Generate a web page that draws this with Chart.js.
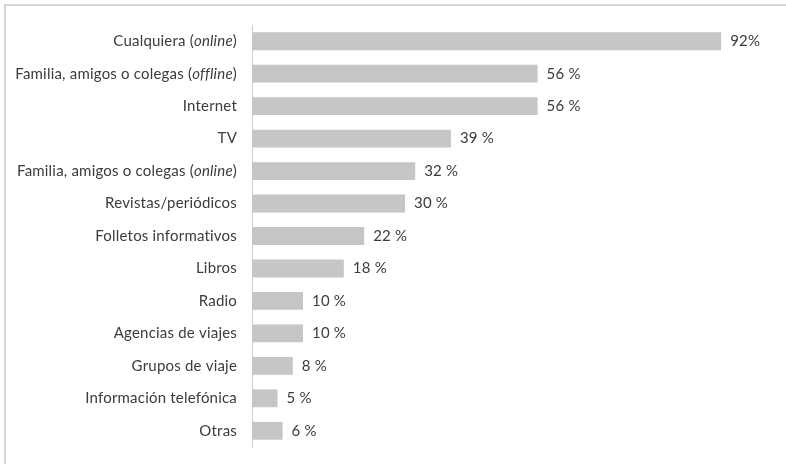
<!DOCTYPE html>
<html>
<head>
<meta charset="utf-8">
<script src="https://cdn.jsdelivr.net/npm/chart.js@4/dist/chart.umd.min.js"></script>
<style>
  html, body { margin: 0; padding: 0; background: #fff; }
  #wrap { position: relative; width: 786px; height: 464px; }
  #frame { position: absolute; left: 4px; top: 4px; right: 0; bottom: 0;
    border-top: 2px solid #d6d6d6; border-left: 2px solid #d6d6d6; }
</style>
</head>
<body>
<div id="wrap">
  <div id="frame"></div>
  <canvas id="chart" width="786" height="464"></canvas>
</div>
<script>
'use strict'

// category names; the word in brackets is drawn in italic
const categories = [
  'Cualquiera (online)',
  'Familia, amigos o colegas (offline)',
  'Internet',
  'TV',
  'Familia, amigos o colegas (online)',
  'Revistas/periódicos',
  'Folletos informativos',
  'Libros',
  'Radio',
  'Agencias de viajes',
  'Grupos de viaje',
  'Información telefónica',
  'Otras'
]
const values = [92, 56, 56, 39, 32, 30, 22, 18, 10, 10, 8, 5, 6]
const valueLabels = ['92%', '56 %', '56 %', '39 %', '32 %', '30 %', '22 %', '18 %', '10 %', '10 %', '8 %', '5 %', '6 %']

const textColor = '#3c3c3c'
const fontFamily = 'Lato, "Open Sans", sans-serif'
const fontSize = 15

// draws the category names with the words in brackets in italic
const categoryLabels = {
  id: 'categoryLabels',
  afterDraw (chart) {
    const ctx = chart.ctx
    const yScale = chart.scales.y
    const right = chart.chartArea.left - 15
    ctx.save()
    ctx.fillStyle = textColor
    ctx.textBaseline = 'middle'
    ctx.letterSpacing = '0.2px'
    categories.forEach(function (name, i) {
      const y = yScale.getPixelForValue(i)
      const m = name.match(/^(.*\()(.*)(\))$/)
      const parts = m ? [[m[1], false], [m[2], true], [m[3], false]] : [[name, false]]
      const fonts = parts.map(p => (p[1] ? 'italic ' : '') + fontSize + 'px ' + fontFamily)
      let total = 0
      parts.forEach(function (p, k) {
        ctx.font = fonts[k]
        total += ctx.measureText(p[0]).width
      })
      let x = right - total
      ctx.textAlign = 'left'
      parts.forEach(function (p, k) {
        ctx.font = fonts[k]
        ctx.fillText(p[0], x, y)
        x += ctx.measureText(p[0]).width
      })
    })
    ctx.restore()
  }
}

// value labels at the end of each bar
const valueLabelsPlugin = {
  id: 'valueLabels',
  afterDatasetsDraw (chart) {
    const ctx = chart.ctx
    const meta = chart.getDatasetMeta(0)
    ctx.save()
    ctx.fillStyle = textColor
    ctx.font = fontSize + 'px ' + fontFamily
    ctx.letterSpacing = '0.2px'
    ctx.textAlign = 'left'
    ctx.textBaseline = 'middle'
    meta.data.forEach(function (bar, i) {
      ctx.fillText(valueLabels[i], bar.x + 9, bar.y)
    })
    ctx.restore()
  }
}

const ctx = document.getElementById('chart')
const myChart = new Chart(ctx, {
  type: 'bar',
  data: {
    labels: categories,
    datasets: [{
      data: values,
      backgroundColor: '#c5c6c8',
      borderWidth: 0,
      categoryPercentage: 1,
      barPercentage: 0.55
    }]
  },
  options: {
    indexAxis: 'y',
    responsive: false,
    animation: false,
    layout: { padding: { left: 0, right: 24, top: 25, bottom: 17 } },
    plugins: {
      legend: { display: false },
      tooltip: { enabled: false }
    },
    scales: {
      x: {
        display: false,
        min: 0,
        max: 100
      },
      y: {
        grid: { display: false, drawTicks: false },
        border: { display: true, color: '#cfcfcf', width: 1 },
        ticks: { display: false },
        afterFit: function (scale) { scale.width = 252 }
      }
    }
  },
  plugins: [categoryLabels, valueLabelsPlugin]
})
</script>
</body>
</html>
